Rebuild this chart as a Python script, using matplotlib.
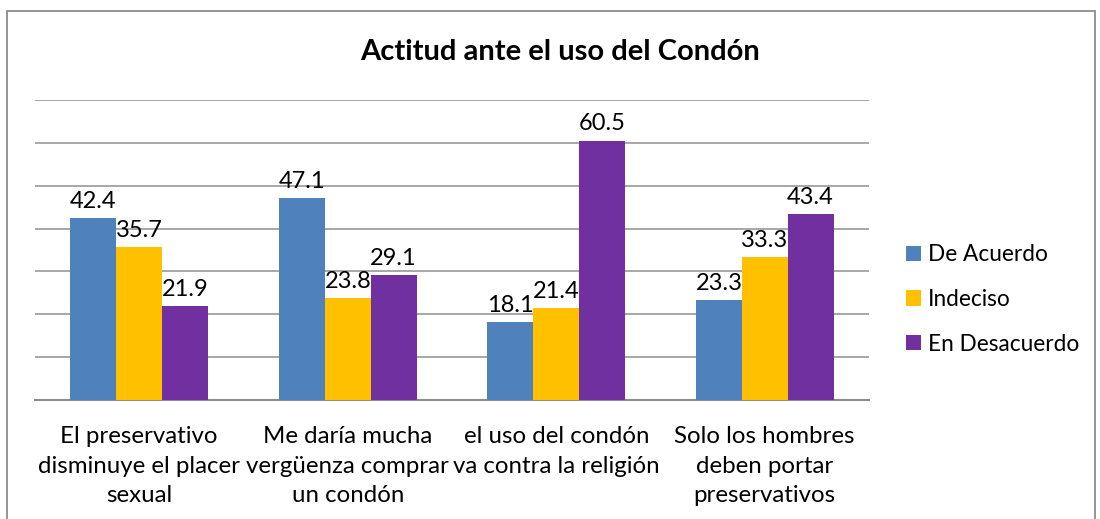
import matplotlib.pyplot as plt
from matplotlib.patches import Rectangle
import numpy as np

plt.rcParams['font.family'] = ['Lato', 'DejaVu Sans']

categorias = ["El preservativo\ndisminuye el placer\nsexual",
              "Me daría mucha\nvergüenza comprar\nun condón",
              "el uso del condón\nva contra la religión",
              "Solo los hombres\ndeben portar\npreservativos"]
series = ["De Acuerdo", "Indeciso", "En Desacuerdo"]
de_acuerdo = [42.4, 47.1, 18.1, 23.3]
indeciso = [35.7, 23.8, 21.4, 33.3]
desacuerdo = [21.9, 29.1, 60.5, 43.4]
colores = ["#4F81BD", "#FFC000", "#7030A0"]

fig = plt.figure(figsize=(11, 5.19), dpi=100)
# bordo esterno del grafico
fig.patches.append(Rectangle((7 / 1100, -0.1), 1088 / 1100, 1 - 11 / 519 + 0.1,
                             transform=fig.transFigure, fill=False,
                             edgecolor="#8c8c8c", linewidth=1.3))

ax = fig.add_axes([35 / 1100, 1 - 400 / 519, 834 / 1100, 300 / 519])
x = np.arange(len(categorias))
w = 0.22
for i, (nome, valori) in enumerate(zip(series, [de_acuerdo, indeciso, desacuerdo])):
    barre = ax.bar(x + (i - 1) * w, valori, w, color=colores[i], label=nome, zorder=3)
    for b, v in zip(barre, valori):
        ax.text(b.get_x() + b.get_width() / 2, v + 1.5, f"{v:.1f}",
                ha="center", va="bottom", fontsize=17)

ax.set_ylim(0, 70)
ax.set_xlim(-0.5, 3.5)
ax.set_yticks(range(10, 71, 10))
ax.yaxis.grid(True, color="#a0a0a0", linewidth=1.3)
ax.tick_params(left=False, labelleft=False, bottom=False)
ax.set_xticks(x)
ax.set_xticklabels(categorias, fontsize=17.3, linespacing=1.52)
ax.tick_params(axis="x", pad=15)
for s in ["top", "left", "right"]:
    ax.spines[s].set_visible(False)
ax.spines["bottom"].set_color("#8c8c8c")
ax.spines["bottom"].set_linewidth(1.5)

fig.text(560 / 1100, 1 - 52 / 519, "Actitud ante el uso del Condón",
         ha="center", va="center", fontsize=21, fontweight="bold")

ax.legend(loc="center left", bbox_to_anchor=(1.02, 0.335), frameon=False,
          fontsize=16.3, handlelength=0.65, handleheight=0.65, handletextpad=0.3,
          labelspacing=1.05)

fig.savefig("out.png", dpi=100)
